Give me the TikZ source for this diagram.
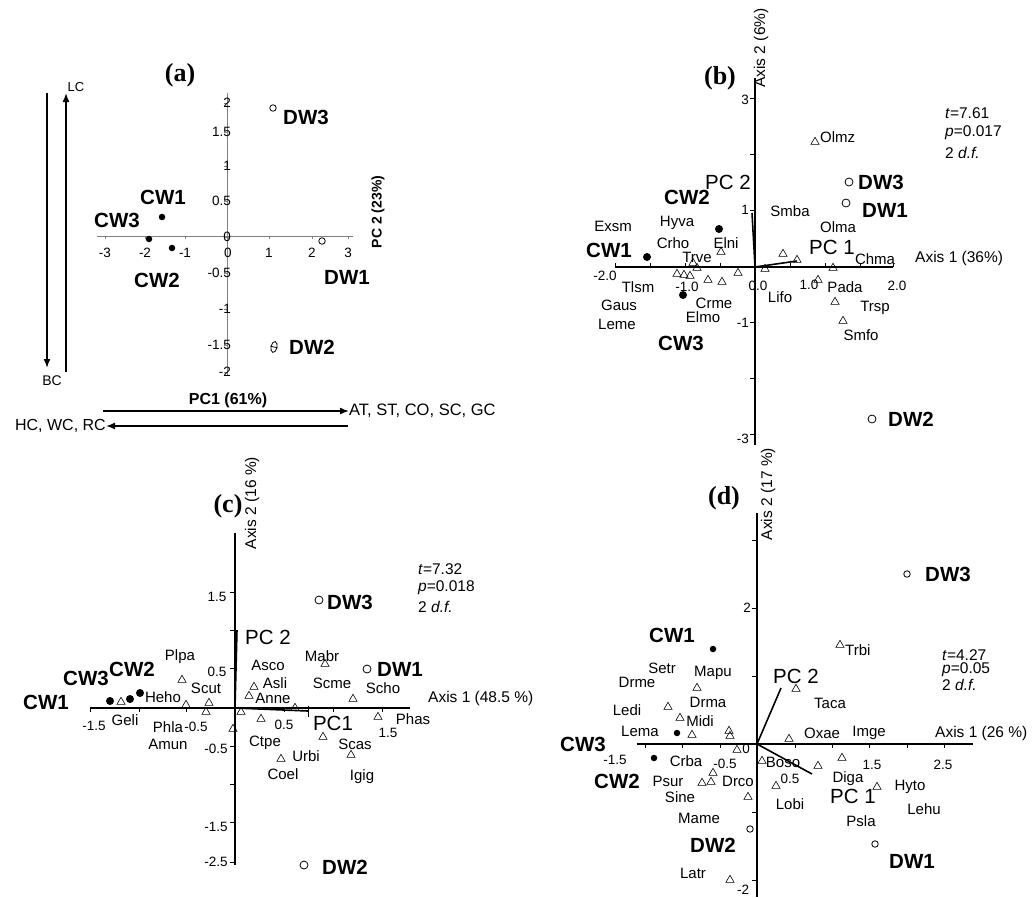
\documentclass[tikz,border=0pt]{standalone}
\usepackage{fontspec}
\setmainfont{Liberation Sans}
\newfontfamily\serifb{Liberation Serif}
\usetikzlibrary{shapes.geometric,arrows.meta}
\newcommand\tr[2]{\node[tri] (#1) at (#2) {};}
\newcommand\spl[3]{\node[sp] (#1) at (#2) {#3};}
\newcommand\sitel[4][center]{\node[site,anchor=#1] (#2) at (#3) {#4};}
\begin{document}
\begin{tikzpicture}[x=1pt,y=-1pt,
 every node/.style={inner sep=0pt},
 site/.style={font=\bfseries\fontsize{20.5}{20.5}\selectfont},
 sp/.style={font=\fontsize{15}{15}\selectfont},
 tk/.style={font=\fontsize{13.5}{13.5}\selectfont},
 ax/.style={font=\fontsize{15.5}{15.5}\selectfont},
 pcl/.style={font=\fontsize{20.5}{20.5}\selectfont},
 stat/.style={font=\fontsize{15.5}{15.5}\selectfont, anchor=west},
 panel/.style={font=\serifb\bfseries\fontsize{26}{26}\selectfont},
 tri/.style={regular polygon, regular polygon sides=3, draw, line width=0.6pt, minimum size=9.5pt},
 dot/.style={circle, fill, minimum size=8pt},
 sdot/.style={circle, fill, minimum size=6.5pt},
 oc/.style={circle, draw, line width=0.8pt, minimum size=8pt},
 soc/.style={circle, draw, line width=0.8pt, minimum size=6.5pt},
 thinax/.style={draw=gray, line width=0.9pt},
 axl/.style={line width=1.6pt},
 tick/.style={line width=0.8pt},
 pca/.style={line width=1.6pt},
 arr/.style={line width=1.5pt, -{Latex[length=9pt,width=7pt]}},
]
\useasboundingbox (0,0) rectangle (1033,897);
\fill[white] (0,0) rectangle (1033,897);

%================ panel (a)
\node[panel] (a-lab) at (180,75) {(a)};
\coordinate (a-yt) at (227,93); \coordinate (a-yb) at (227,375);
\coordinate (a-xl) at (97,236); \coordinate (a-xr) at (353,236);
\draw[thinax] (a-yt) -- (a-yb);
\draw[thinax] (a-xl) -- (a-xr);
\foreach \y/\t in {103/2,132/1.5,166/1,201/0.5,237/0,273/-0.5,309/-1,345/-1.5,372/-2}
  {\draw[thinax] (224,\y) -- (227,\y); \node[tk,anchor=east] (a-ty\y) at (231,\y) {\t};}
\foreach \x/\t in {105/-3,145/-2,185/-1,228/0,269/1,312/2,348/3}
  {\draw[thinax] (\x,236) -- (\x,239); \node[tk] (a-tx\x) at (\x,253) {\t};}
\node[soc] (a-dw3) at (273,108) {};
\sitel[west]{a-DW3}{283,117}{DW3}
\node[sdot] (a-cw1) at (162,217) {};
\sitel{a-CW1}{163,197}{CW1}
\sitel{a-CW3}{117,220}{CW3}
\node[sdot] (a-cw3) at (149,239) {};
\node[sdot] (a-cw2) at (172,248) {};
\sitel{a-CW2}{157,280}{CW2}
\node[soc] (a-dw1) at (322,241) {};
\sitel{a-DW1}{347,277}{DW1}
\node[draw, ellipse, line width=0.8pt, minimum width=6pt, minimum height=11pt, rotate=-12] (a-dw2) at (274,347) {};
\draw[line width=0.8pt] (a-dw2.west) -- (a-dw2.east);
\sitel{a-DW2}{312,347}{DW2}
\node[font=\bfseries\fontsize{14}{14}\selectfont, rotate=90] (a-pc2) at (378,212) {PC 2 (23\%)};
% gradient arrows
\coordinate (a-l1t) at (47,93); \coordinate (a-l1b) at (47,368);
\coordinate (a-l2b) at (66,372); \coordinate (a-l2t) at (66,93);
\draw[arr] (a-l1t) -- (a-l1b);
\draw[arr] (a-l2b) -- (a-l2t);
\node[font=\fontsize{13}{13}\selectfont] (a-LC) at (76,87) {LC};
\node[font=\fontsize{14}{14}\selectfont] (a-BC) at (52,381) {BC};
\node[font=\bfseries\fontsize{16}{16}\selectfont] (a-pc1) at (228,400) {PC1 (61\%)};
\node[font=\fontsize{16.5}{16.5}\selectfont, anchor=west] (a-AT) at (349,411) {AT, ST, CO, SC, GC};
\node[font=\fontsize{16}{16}\selectfont, anchor=east] (a-HC) at (106,426) {HC, WC, RC};
\coordinate (a-b1l) at (103,411); \coordinate (a-b2r) at (348,426);
\draw[arr] (a-b1l) -- (a-AT.west);
\draw[arr] (a-b2r) -- (a-HC.east);

%================ panel (b)
\node[panel] (b-lab) at (720,78) {(b)};
\coordinate (b-O) at (755,267);
\coordinate (b-yt) at (755,78); \coordinate (b-yb) at (755,445);
\coordinate (b-xl) at (615,267); \coordinate (b-xr) at (893,267);
\draw[axl] (b-yt) -- (b-yb);
\draw[axl] (b-xl) -- (b-xr);
\foreach \y in {98,154,210,322,378,434} {\draw[tick] (750,\y) -- (755,\y);}
\foreach \x in {615,650,685,720,790,825,860,893} {\draw[tick] (\x,263) -- (\x,267);}
\node[tk,anchor=east] (b-t3) at (749,100) {3};
\node[tk,anchor=east] (b-t1) at (749,210) {1};
\node[tk,anchor=east] (b-tm1) at (749,323) {-1};
\node[tk,anchor=east] (b-tm3) at (749,439) {-3};
\node[tk] (b-tx1) at (605,276) {-2.0};
\node[tk] (b-tx2) at (687,287) {-1.0};
\node[tk] (b-tx3) at (758,286) {0.0};
\node[tk] (b-tx4) at (809,285) {1.0};
\node[tk] (b-tx5) at (897,286) {2.0};
\node[ax,rotate=90] (b-ax2) at (761,48) {Axis 2 (6\%)};
\node[ax,anchor=west] (b-ax1) at (915,258) {Axis 1 (36\%)};
\node[stat] (b-s1) at (945,113) {\textit{t}=7.61};
\node[stat] (b-s2) at (945,133) {\textit{p}=0.017};
\node[stat] (b-s3) at (945,153) {2 \textit{d.f.}};
\coordinate (b-pc1e) at (797,261); \coordinate (b-pc2e) at (752,213);
\draw[pca] (b-O) -- (b-pc1e);
\draw[pca] (b-O) -- (b-pc2e);
\node[pcl] (b-PC1) at (832,247) {PC 1};
\node[pcl] (b-PC2) at (728,182) {PC 2};
% species
\tr{b-t-olmz}{815,142} \tr{b-t-elni}{721,252} \tr{b-t-trve}{693,263}
\tr{b-t4}{783,254} \tr{b-t5}{797,260} \tr{b-t6}{833,268} \tr{b-t7}{765,269}
\tr{b-t8}{738,273} \tr{b-t9}{722,282} \tr{b-t10}{708,280}
\tr{b-t11}{677,274} \tr{b-t12}{684,275} \tr{b-t13}{690,276} \tr{b-t14}{697,268}
\tr{b-t15}{818,280} \tr{b-t16}{835,302} \tr{b-t17}{843,321}
\node[sp,anchor=west] (b-Olmz) at (820,137) {Olmz};
\spl{b-Smba}{790,211}{Smba}
\spl{b-Olma}{838,227}{Olma}
\spl{b-Exsm}{613,226}{Exsm}
\spl{b-Hyva}{677,223}{Hyva}
\spl{b-Elni}{726,243}{Elni}
\spl{b-Crho}{673,243}{Crho}
\spl{b-Trve}{697,257}{Trve}
\spl{b-Chma}{875,259}{Chma}
\spl{b-Tlsm}{638,287}{Tlsm}
\spl{b-Gaus}{619,305}{Gaus}
\spl{b-Crme}{714,303}{Crme}
\spl{b-Elmo}{703,317}{Elmo}
\spl{b-Leme}{617,324}{Leme}
\spl{b-Lifo}{780,297}{Lifo}
\spl{b-Pada}{845,287}{Pada}
\spl{b-Trsp}{875,308}{Trsp}
\spl{b-Smfo}{861,335}{Smfo}
% sites
\node[dot] (b-cw1) at (647,257) {};
\node[dot] (b-cw2) at (719,229) {};
\node[dot] (b-cw3) at (683,295) {};
\node[oc] (b-dw3) at (849,182) {};
\node[oc] (b-dw1) at (846,203) {};
\node[oc] (b-dw2) at (872,419) {};
\sitel{b-CW2}{687,197}{CW2}
\sitel{b-CW1}{609,250}{CW1}
\sitel{b-CW3}{681,343}{CW3}
\sitel[west]{b-DW3}{858,182}{DW3}
\sitel[west]{b-DW1}{862,210}{DW1}
\sitel[west]{b-DW2}{888,419}{DW2}

%================ panel (c)
\node[panel] (c-lab) at (228,506) {(c)};
\coordinate (c-O) at (235,708);
\coordinate (c-yt) at (235,533); \coordinate (c-yb) at (235,865);
\coordinate (c-xl) at (90,708); \coordinate (c-xr) at (410,708);
\draw[axl] (c-yt) -- (c-yb);
\draw[axl] (c-xl) -- (c-xr);
\foreach \y in {592,630,668,746,784,822,862} {\draw[tick] (230,\y) -- (235,\y);}
\foreach \x in {90,139,186,284,333,382} {\draw[tick] (\x,708) -- (\x,712);}
\node[tk] (c-ty1) at (217,597) {1.5};
\node[tk] (c-ty2) at (217,672) {0.5};
\node[tk] (c-ty3) at (216,749) {-0.5};
\node[tk] (c-ty4) at (216,827) {-1.5};
\node[tk] (c-ty5) at (216,862) {-2.5};
\node[tk] (c-tx1) at (94,726) {-1.5};
\node[tk] (c-tx2) at (196,727) {-0.5};
\node[tk] (c-tx3) at (284,725) {0.5};
\node[tk] (c-tx4) at (388,733) {1.5};
\node[ax,rotate=90] (c-ax2) at (252,503) {Axis 2 (16 \%)};
\node[ax,anchor=west] (c-ax1) at (428,698) {Axis 1 (48.5 \%)};
\node[stat] (c-s1) at (418,569) {\textit{t}=7.32};
\node[stat] (c-s2) at (418,588) {\textit{p}=0.018};
\node[stat] (c-s3) at (418,607) {2 \textit{d.f.}};
\coordinate (c-pc1e) at (308,711); \coordinate (c-pc2e) at (237,630);
\draw[pca] (c-O) -- (c-pc1e);
\draw[tick] (308,706) -- (308,717);
\draw[pca] (c-O) -- (c-pc2e);
\node[pcl] (c-PC2) at (268,637) {PC 2};
\node[pcl] (c-PC1) at (333,723) {PC1};
\tr{c-t1}{121,702} \tr{c-t2}{325,664} \tr{c-t3}{254,687} \tr{c-t4}{249,696}
\tr{c-t5}{353,699} \tr{c-t6}{182,680} \tr{c-t7}{186,705} \tr{c-t8}{209,703}
\tr{c-t9}{206,712} \tr{c-t10}{241,712} \tr{c-t11}{261,719} \tr{c-t12}{233,729}
\tr{c-t13}{295,708} \tr{c-t14}{378,717} \tr{c-t15}{323,737} \tr{c-t16}{281,759}
\tr{c-t17}{351,755}
\spl{c-Plpa}{180,657}{Plpa}
\spl{c-Heho}{163,697}{Heho}
\spl{c-Scut}{206,688}{Scut}
\spl{c-Geli}{125,720}{Geli}
\spl{c-Phla}{168,727}{Phla}
\spl{c-Amun}{168,744}{Amun}
\spl{c-Asco}{268,665}{Asco}
\spl{c-Asli}{275,683}{Asli}
\spl{c-Anne}{273,698}{Anne}
\spl{c-Mabr}{322,656}{Mabr}
\spl{c-Scme}{332,683}{Scme}
\spl{c-Scho}{383,688}{Scho}
\spl{c-Phas}{413,719}{Phas}
\spl{c-Ctpe}{265,743}{Ctpe}
\spl{c-Scas}{355,744}{Scas}
\spl{c-Urbi}{306,756}{Urbi}
\spl{c-Coel}{283,774}{Coel}
\spl{c-Igig}{362,777}{Igig}
\node[dot] (c-cw1) at (110,701) {};
\node[dot] (c-cw3) at (130,699) {};
\node[dot] (c-cw2) at (140,693) {};
\node[oc] (c-dw3) at (319,600) {};
\node[oc] (c-dw1) at (367,669) {};
\node[oc] (c-dw2) at (304,865) {};
\sitel{c-CW3}{86,678}{CW3}
\sitel{c-CW2}{132,669}{CW2}
\sitel{c-CW1}{46,702}{CW1}
\sitel[west]{c-DW3}{327,602}{DW3}
\sitel[west]{c-DW1}{377,669}{DW1}
\sitel[west]{c-DW2}{322,867}{DW2}

%================ panel (d)
\node[panel] (d-lab) at (724,498) {(d)};
\coordinate (d-O) at (757,744);
\coordinate (d-yt) at (757,513); \coordinate (d-yb) at (757,897);
\coordinate (d-xl) at (637,744); \coordinate (d-xr) at (973,744);
\draw[axl] (d-yt) -- (d-yb);
\draw[axl] (d-xl) -- (d-xr);
\foreach \y in {540,608,676,812,880} {\draw[tick] (752,\y) -- (757,\y);}
\foreach \x in {645,682,720,795,832,869,907,944} {\draw[tick] (\x,744) -- (\x,748);}
\node[tk] (d-ty1) at (747,608) {2};
\node[tk] (d-ty0) at (746,749) {0};
\node[tk] (d-ty2) at (743,890) {-2};
\node[tk] (d-tx1) at (615,760) {-1.5};
\node[tk] (d-tx2) at (725,764) {-0.5};
\node[tk] (d-tx3) at (790,779) {0.5};
\node[tk] (d-tx4) at (872,765) {1.5};
\node[tk] (d-tx5) at (943,765) {2.5};
\node[ax,rotate=90] (d-ax2) at (768,494) {Axis 2 (17 \%)};
\node[ax,anchor=west] (d-ax1) at (935,733) {Axis 1 (26 \%)};
\node[stat] (d-s1) at (942,655) {\textit{t}=4.27};
\node[stat] (d-s2) at (942,670) {\textit{p}=0.05};
\node[stat] (d-s3) at (942,685) {2 \textit{d.f.}};
\coordinate (d-pc1e) at (812,774); \coordinate (d-pc2e) at (781,688);
\draw[pca] (d-O) -- (d-pc1e);
\draw[pca] (d-O) -- (d-pc2e);
\node[pcl] (d-PC2) at (796,676) {PC 2};
\node[pcl] (d-PC1) at (853,796) {PC 1};
\tr{d-t1}{840,645} \tr{d-t2}{697,688} \tr{d-t3}{796,689} \tr{d-t4}{668,707}
\tr{d-t5}{680,718} \tr{d-t6}{692,735} \tr{d-t7}{729,731} \tr{d-t8}{730,736}
\tr{d-t9}{789,739} \tr{d-t10}{737,750} \tr{d-t11}{762,761} \tr{d-t12}{818,766}
\tr{d-t13}{842,758} \tr{d-t14}{713,773} \tr{d-t15}{702,783} \tr{d-t16}{711,782}
\tr{d-t17}{776,786} \tr{d-t18}{748,797} \tr{d-t19}{877,787} \tr{d-t20}{730,880}
\node[sp,anchor=west] (d-Trbi) at (845,650) {Trbi};
\spl{d-Setr}{662,668}{Setr}
\spl{d-Mapu}{713,673}{Mapu}
\spl{d-Drme}{637,682}{Drme}
\spl{d-Taca}{830,703}{Taca}
\spl{d-Drma}{708,702}{Drma}
\spl{d-Ledi}{627,710}{Ledi}
\spl{d-Midi}{700,721}{Midi}
\spl{d-Lema}{640,731}{Lema}
\spl{d-Oxae}{822,733}{Oxae}
\spl{d-Imge}{869,733}{Imge}
\spl{d-Boso}{783,762}{Boso}
\spl{d-Crba}{686,761}{Crba}
\spl{d-Psur}{668,781}{Psur}
\spl{d-Drco}{738,781}{Drco}
\spl{d-Diga}{848,779}{Diga}
\spl{d-Hyto}{910,787}{Hyto}
\spl{d-Lehu}{924,809}{Lehu}
\spl{d-Sine}{680,797}{Sine}
\spl{d-Lobi}{790,804}{Lobi}
\spl{d-Psla}{861,821}{Psla}
\spl{d-Mame}{699,818}{Mame}
\spl{d-Latr}{693,873}{Latr}
\node[sdot] (d-cw1) at (713,649) {};
\node[sdot] (d-cw3) at (677,733) {};
\node[sdot] (d-cw2) at (654,758) {};
\node[soc] (d-dw3) at (907,574) {};
\node[soc] (d-dw1) at (875,844) {};
\node[soc] (d-dw2) at (750,829) {};
\sitel[west]{d-DW3}{925,574}{DW3}
\sitel{d-CW1}{672,635}{CW1}
\sitel{d-CW3}{583,744}{CW3}
\sitel{d-CW2}{617,781}{CW2}
\sitel{d-DW2}{713,845}{DW2}
\sitel{d-DW1}{912,861}{DW1}
\end{tikzpicture}
\end{document}
